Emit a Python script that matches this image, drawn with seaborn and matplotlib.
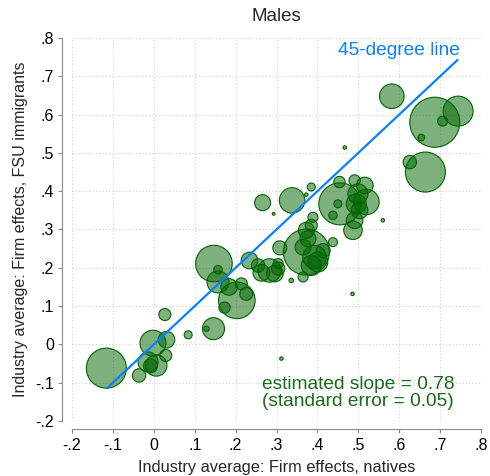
import matplotlib
matplotlib.use("Agg")
import matplotlib.pyplot as plt
import seaborn as sns
import numpy as np
import pandas as pd

# ---- data (industry averages of firm effects; weight = industry size) ----
natives = [-0.116, 0.027, 0.084, -0.002, 0.031, 0.029, 0.006, -0.014, -0.008, -0.036,
           0.147, 0.157, 0.157, 0.184, 0.214, 0.226, 0.203, 0.173, 0.146, 0.129, 0.312,
           0.234, 0.255, 0.283, 0.263, 0.296, 0.304, 0.308, 0.304, 0.336, 0.365,
           0.373, 0.373, 0.385, 0.377, 0.365, 0.393, 0.401, 0.385, 0.414, 0.438, 0.389,
           0.385, 0.373, 0.338, 0.266, 0.293,
           0.455, 0.454, 0.450, 0.438, 0.491, 0.516, 0.499, 0.520, 0.495, 0.503, 0.491,
           0.487, 0.560, 0.486, 0.467,
           0.582, 0.687, 0.744, 0.706, 0.654, 0.664, 0.626]
fsu = [-0.062, 0.078, 0.025, 0.003, 0.012, -0.029, -0.055, -0.046, -0.056, -0.081,
       0.211, 0.195, 0.163, 0.150, 0.158, 0.132, 0.115, 0.096, 0.041, 0.041, -0.037,
       0.219, 0.206, 0.193, 0.187, 0.185, 0.211, 0.252, 0.198, 0.167, 0.176,
       0.241, 0.298, 0.311, 0.276, 0.254, 0.228, 0.215, 0.206, 0.245, 0.267, 0.332,
       0.411, 0.391, 0.376, 0.370, 0.341,
       0.367, 0.424, 0.367, 0.337, 0.428, 0.415, 0.393, 0.372, 0.367, 0.350, 0.324,
       0.298, 0.324, 0.132, 0.514,
       0.648, 0.580, 0.609, 0.583, 0.540, 0.450, 0.476]
weight = [400, 36, 16, 169, 69, 36, 114, 100, 49, 45,
          335, 18, 121, 69, 36, 42, 335, 32, 121, 7, 3,
          69, 45, 137, 70, 69, 25, 49, 45, 5, 25,
          529, 64, 36, 64, 64, 137, 100, 100, 49, 20, 25,
          16, 3, 161, 64, 2,
          441, 32, 16, 18, 32, 69, 100, 161, 100, 69, 69,
          86, 3, 3, 3,
          151, 625, 225, 25, 11, 400, 45]

ticks = [-0.2, -0.1, 0, 0.1, 0.2, 0.3, 0.4, 0.5, 0.6, 0.7, 0.8]
tick_labels = ["-.2", "-.1", "0", ".1", ".2", ".3", ".4", ".5", ".6", ".7", ".8"]

df = pd.DataFrame({"natives": natives, "fsu": fsu, "weight": weight})

sns.set_style("white")
plt.rcParams["font.family"] = ["Liberation Sans", "DejaVu Sans"]

W, H = 490, 476
fig = plt.figure(figsize=(W / 100, H / 100), dpi=100)
ax = fig.add_axes([72 / W, 1 - 421 / H, (481 - 72) / W, (421 - 38) / H])

GREEN = "#006400"
wmax = max(weight)
sns.scatterplot(data=df, x="natives", y="fsu", size="weight",
                sizes=(0, 2.0736 * wmax), size_norm=(0, wmax),
                color=GREEN, legend=False, ax=ax, linewidth=0.8, zorder=3)
coll = ax.collections[0]
coll.set_alpha(None)
coll.set_facecolor((0, 100 / 255, 0, 0.5))
coll.set_edgecolor((0, 100 / 255, 0, 1.0))

# 45-degree line over the data range
lo, hi = min(natives), max(natives)
ax.plot([lo, hi], [lo, hi], color="#0a80ff", lw=1.6, zorder=4, solid_capstyle="butt")

ax.set_xlim(-0.2, 0.8)
ax.set_ylim(-0.2, 0.8)
ax.set_xticks(ticks)
ax.set_xticklabels(tick_labels)
ax.set_yticks(ticks)
ax.set_yticklabels(tick_labels)
ax.grid(True, color="#d0d0d0", linestyle=(0, (1, 2)), lw=0.8, zorder=0)
ax.set_axisbelow(True)

for s in ["top", "right"]:
    ax.spines[s].set_visible(False)
ax.spines["left"].set_position(("outward", 7))
ax.spines["bottom"].set_position(("outward", 6))
for s in ["left", "bottom"]:
    ax.spines[s].set_color("#8a8a8a")
    ax.spines[s].set_linewidth(0.8)
ax.tick_params(axis="both", direction="out", length=3, width=0.8, color="#8a8a8a",
               labelsize=11.5, labelcolor="black", pad=3, left=True, bottom=True)

ax.set_xlabel("Industry average: Firm effects, natives", fontsize=11.8, labelpad=5)
ax.set_ylabel("Industry average: Firm effects, FSU immigrants", fontsize=11.5, labelpad=5)
ax.set_title("Males", fontsize=13.5, pad=12)

ax.text(0.748, 0.768, "45-degree line", color="#0a80ff", fontsize=13.8,
        ha="right", va="center")
ax.text(0.50, -0.127, "estimated slope = 0.78\n(standard error = 0.05)",
        color="#1a6b1a", fontsize=13.8, ha="center", va="center",
        multialignment="center", linespacing=1.0)

fig.savefig("out.png", dpi=100)
